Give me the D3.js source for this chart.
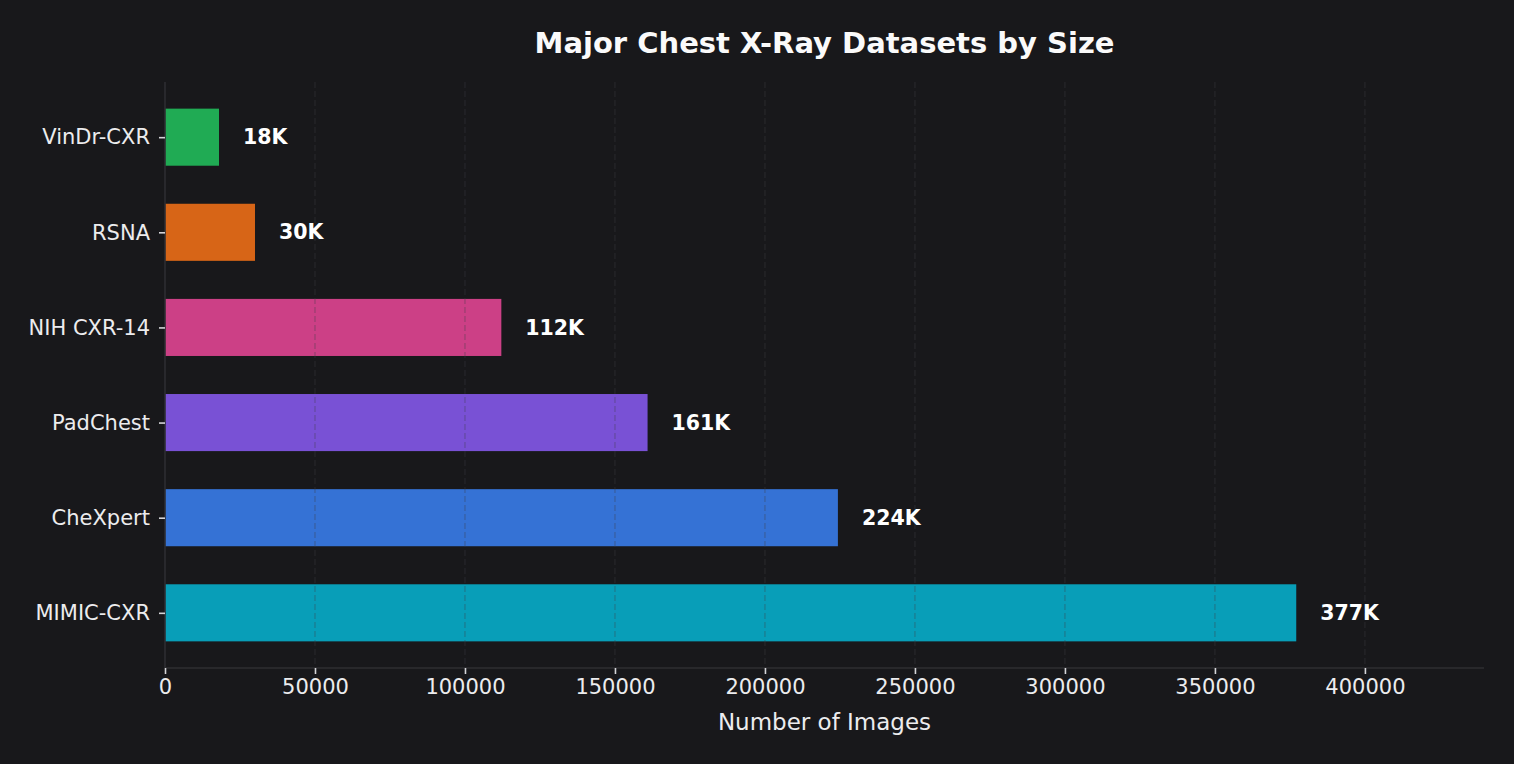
<!DOCTYPE html>
<html>
<head>
<meta charset="utf-8">
<script src="https://cdn.jsdelivr.net/npm/d3@7"></script>
<style>
  html, body { margin:0; padding:0; background:#18181b; }
  svg { display:block; font-family:"DejaVu Sans", sans-serif; }
</style>
</head>
<body>
<div id="chart"></div>
<script>
// data
var datasets = ["MIMIC-CXR", "CheXpert", "PadChest", "NIH CXR-14", "RSNA", "VinDr-CXR"];
var images = [377110, 224316, 160868, 112120, 30000, 18000];
var valueLabels = ["377K", "224K", "161K", "112K", "30K", "18K"];
var barColors = ["#06b6d4", "#3b82f6", "#8b5cf6", "#ec4899", "#f97316", "#22c55e"];
var xTicks = [0, 50000, 100000, 150000, 200000, 250000, 300000, 350000, 400000];

var W = 1514, H = 764;
var m = {left:165, right:30, top:82, bottom:96};
var bg = "#18181b";

var svg = d3.select("#chart").append("svg").attr("width", W).attr("height", H);
svg.append("rect").attr("width", W).attr("height", H).attr("fill", bg);

var x = d3.scaleLinear().domain([0, 439700]).range([m.left, W - m.right]);
// index positions: 0 at bottom
var y = d3.scaleLinear().domain([-0.58, datasets.length - 1 + 0.58]).range([H - m.bottom, m.top]);
var barH = 0.6 * (y(0) - y(1));

// bars
svg.append("g").selectAll("rect").data(datasets).enter().append("rect")
  .attr("x", x(0))
  .attr("y", function(d, i){ return y(i) - barH / 2; })
  .attr("width", function(d, i){ return x(images[i]) - x(0); })
  .attr("height", barH)
  .attr("fill", function(d, i){ return barColors[i]; })
  .attr("fill-opacity", 0.85);

// grid (drawn above bars)
svg.append("g").selectAll("line").data(xTicks.slice(1)).enter().append("line")
  .attr("x1", function(d){ return x(d); }).attr("x2", function(d){ return x(d); })
  .attr("y1", m.top).attr("y2", H - m.bottom)
  .attr("stroke", "#3f3f46").attr("stroke-opacity", 0.35)
  .attr("stroke-width", 1.3).attr("stroke-dasharray", "6,3");

// spines
svg.append("line").attr("x1", x(0)).attr("x2", x(0)).attr("y1", m.top).attr("y2", H - m.bottom)
  .attr("stroke", "#2e2e32").attr("stroke-width", 1.6);
svg.append("line").attr("x1", x(0)).attr("x2", W - m.right).attr("y1", H - m.bottom).attr("y2", H - m.bottom)
  .attr("stroke", "#2e2e32").attr("stroke-width", 1.6);

// x axis
var xAxis = svg.append("g").attr("transform", "translate(0," + (H - m.bottom) + ")")
  .call(d3.axisBottom(x).tickValues(xTicks).tickFormat(d3.format("d")).tickSize(6).tickPadding(5));
xAxis.select(".domain").remove();
xAxis.selectAll(".tick line").attr("stroke", "#d4d4d8").attr("stroke-width", 1.6);
xAxis.selectAll(".tick text").attr("fill", "#ececee").attr("font-size", 21)
  .attr("font-family", "DejaVu Sans");

// y axis
var yAxis = svg.append("g").attr("transform", "translate(" + x(0) + ",0)")
  .call(d3.axisLeft(y).tickValues(d3.range(datasets.length))
    .tickFormat(function(i){ return datasets[i]; }).tickSize(6).tickPadding(9));
yAxis.select(".domain").remove();
yAxis.selectAll(".tick line").attr("stroke", "#d4d4d8").attr("stroke-width", 1.6);
yAxis.selectAll(".tick text").attr("fill", "#ececee").attr("font-size", 21)
  .attr("font-family", "DejaVu Sans");

// value labels
svg.append("g").selectAll("text").data(valueLabels).enter().append("text")
  .attr("x", function(d, i){ return x(images[i]) + 24; })
  .attr("y", function(d, i){ return y(i); })
  .attr("dy", "0.35em")
  .attr("fill", "#ffffff").attr("font-size", 20.5).attr("font-weight", "bold")
  .text(function(d){ return d; });

// title
svg.append("text").attr("x", (x(0) + W - m.right) / 2).attr("y", 53)
  .attr("text-anchor", "middle").attr("fill", "#fafafa")
  .attr("font-size", 29).attr("font-weight", "bold")
  .text("Major Chest X-Ray Datasets by Size");

// x label
svg.append("text").attr("x", (x(0) + W - m.right) / 2).attr("y", 730)
  .attr("text-anchor", "middle").attr("fill", "#ececee").attr("font-size", 23)
  .text("Number of Images");
</script>
</body>
</html>
